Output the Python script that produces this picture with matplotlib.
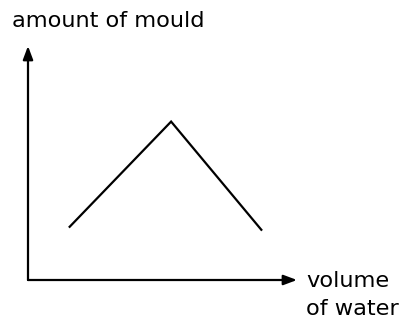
import matplotlib
matplotlib.use("Agg")
import matplotlib.pyplot as plt

# Data (arbitrary units)
volume_of_water = [1.52, 5.32, 8.70]
amount_of_mould = [2.24, 6.77, 2.11]

W, H = 411, 325
fig = plt.figure(figsize=(W / 100, H / 100), dpi=100)
fig.patch.set_facecolor("white")

x0, x1 = 28, 297   # pixel positions of axis origin / arrow tip
y0, y1 = 280, 46
ax = fig.add_axes([x0 / W, 1 - y0 / H, (x1 - x0) / W, (y0 - y1) / H])
ax.set_xlim(0, 10)
ax.set_ylim(0, 10)
ax.axis("off")

ax.plot(volume_of_water, amount_of_mould, color="black", lw=1.6,
        solid_joinstyle="miter", solid_capstyle="butt")

arrow_kw = dict(arrowstyle="-|>,head_length=0.8,head_width=0.3",
                color="black", lw=1.6, shrinkA=0, shrinkB=0)
ax.annotate("", xy=(1, 0), xytext=(0, 0), xycoords="axes fraction",
            arrowprops=arrow_kw, annotation_clip=False)
ax.annotate("", xy=(0, 1), xytext=(0, 0), xycoords="axes fraction",
            arrowprops=arrow_kw, annotation_clip=False)

fs = 16.2
fig.text(12 / W, 1 - 27 / H, "amount of mould", fontsize=fs,
         family="DejaVu Sans", ha="left", va="baseline")
fig.text(306 / W, 1 - 287 / H, "volume", fontsize=fs,
         family="DejaVu Sans", ha="left", va="baseline")
fig.text(306 / W, 1 - 315 / H, "of water", fontsize=fs,
         family="DejaVu Sans", ha="left", va="baseline")

fig.savefig("out.png", dpi=100, facecolor="white")
